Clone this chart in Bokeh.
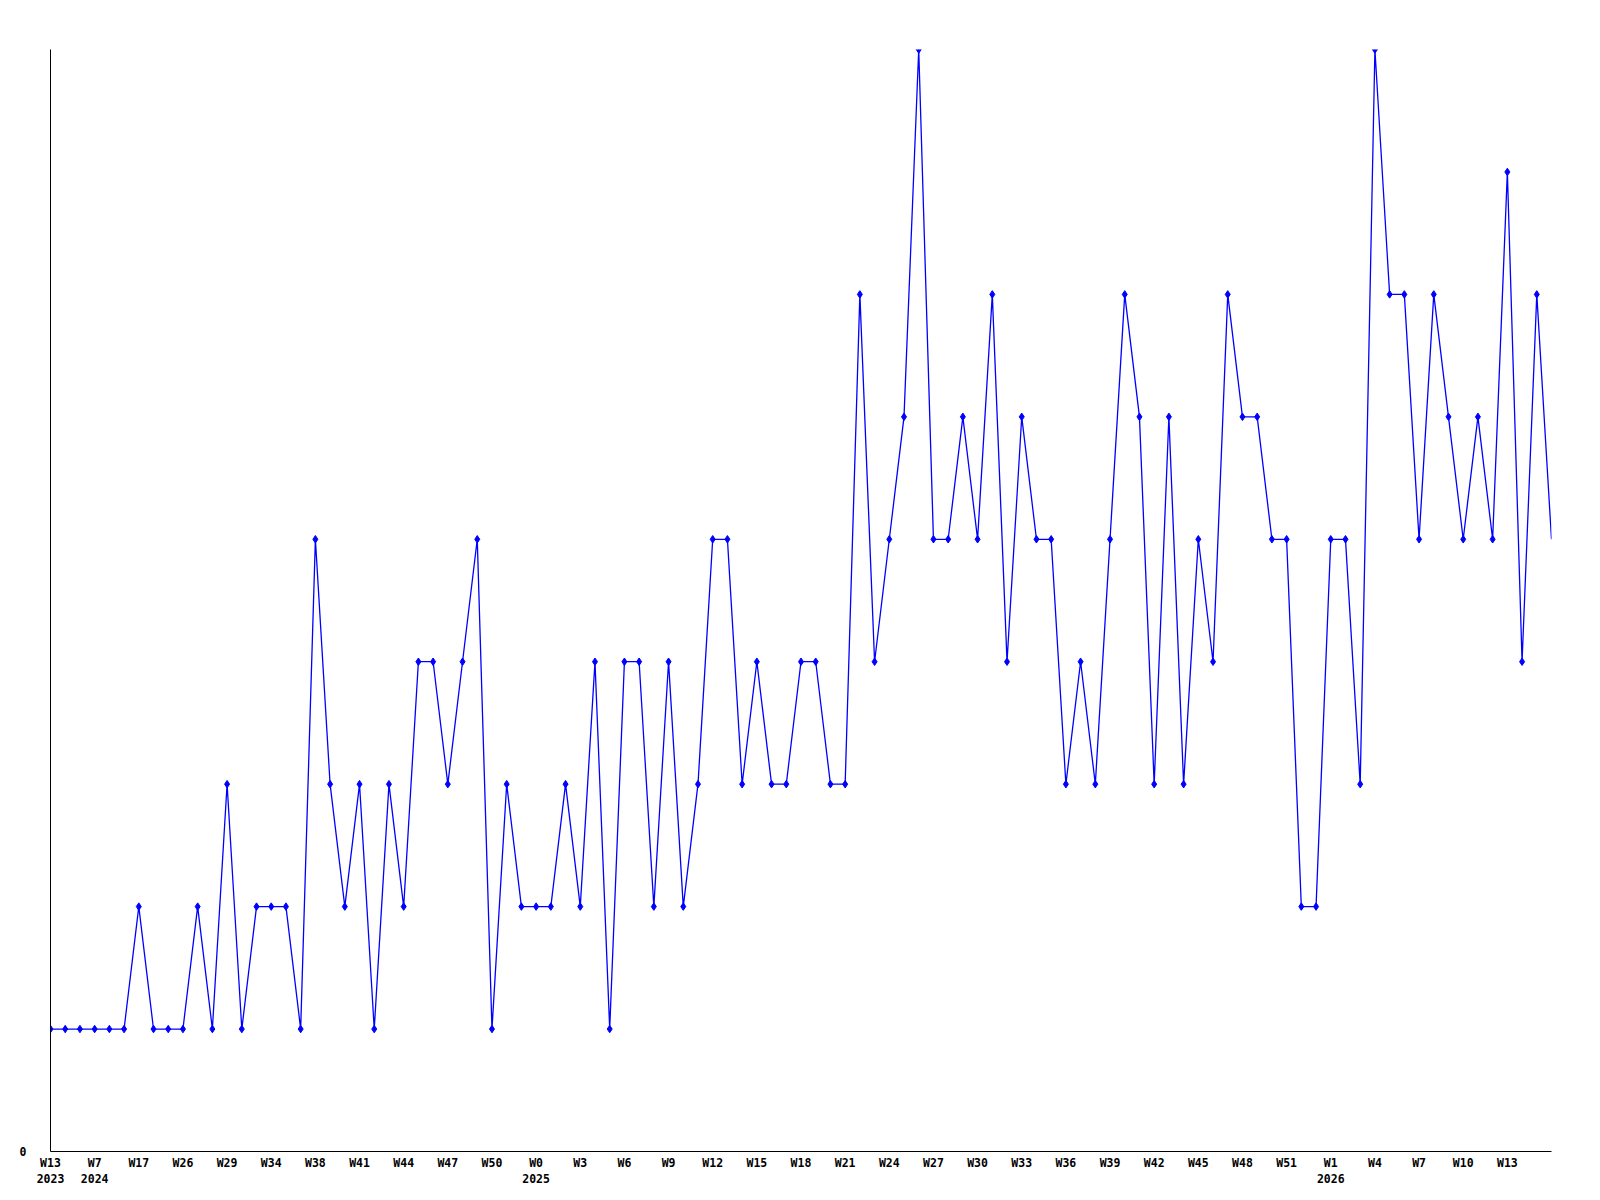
from bokeh.plotting import figure
from bokeh.models import Range1d, FixedTicker
from bokeh.embed import file_html
from bokeh.resources import INLINE

# weekly values (one per data point)
values = [1, 1, 1, 1, 1, 1, 2, 1, 1, 1,
          2, 1, 3, 1, 2, 2, 2, 1, 5, 3,
          2, 3, 1, 3, 2, 4, 4, 3, 4, 5,
          1, 3, 2, 2, 2, 3, 2, 4, 1, 4,
          4, 2, 4, 2, 3, 5, 5, 3, 4, 3,
          3, 4, 4, 3, 3, 7, 4, 5, 6, 9,
          5, 5, 6, 5, 7, 4, 6, 5, 5, 3,
          4, 3, 5, 7, 6, 3, 6, 3, 5, 4,
          7, 6, 6, 5, 5, 2, 2, 5, 5, 3,
          9, 7, 7, 5, 7, 6, 5, 6, 5, 8,
          4, 7, 5]

# tick labels (one every third point)
tick_labels = ["W13\n2023", "W7\n2024", "W17", "W26", "W29", "W34", "W38", "W41",
               "W44", "W47", "W50", "W0\n2025", "W3", "W6", "W9", "W12", "W15",
               "W18", "W21", "W24", "W27", "W30", "W33", "W36", "W39", "W42",
               "W45", "W48", "W51", "W1\n2026", "W4", "W7", "W10", "W13"]
tick_step = 3

y_max = 9

xs = list(range(len(values)))
tick_pos = [i * tick_step for i in range(len(tick_labels))]

p = figure(width=1592, height=1194, output_backend="svg", toolbar_location=None,
           x_range=Range1d(0, len(values) - 1), y_range=Range1d(0, y_max),
           min_border_left=50, min_border_right=41, min_border_top=49,
           min_border_bottom=43)
p.outline_line_color = None
p.xgrid.grid_line_color = None
p.ygrid.grid_line_color = None
p.background_fill_color = "white"
p.border_fill_color = "white"

p.line(xs, values, line_color="#0000ff", line_width=1.3)
# last (current) week is drawn without a marker
p.scatter(xs[:-1], values[:-1], marker="diamond", size=7.5,
          fill_color="#0000ff", line_color="#0000ff")

font = "DejaVu Sans Mono"

xa = p.xaxis[0]
xa.ticker = FixedTicker(ticks=tick_pos)
xa.major_label_overrides = {t: lab for t, lab in zip(tick_pos, tick_labels)}
xa.major_tick_line_color = None
xa.minor_tick_line_color = None
xa.axis_line_color = "black"
xa.axis_line_width = 1
xa.major_label_text_font = font
xa.major_label_text_font_style = "bold"
xa.major_label_text_font_size = "11.5px"
xa.major_label_text_color = "black"
xa.major_label_standoff = -2

ya = p.yaxis[0]
ya.ticker = FixedTicker(ticks=[0])
ya.major_tick_line_color = None
ya.minor_tick_line_color = None
ya.axis_line_color = "black"
ya.axis_line_width = 1
ya.major_label_text_font = font
ya.major_label_text_font_style = "bold"
ya.major_label_text_font_size = "11.5px"
ya.major_label_text_color = "black"
ya.major_label_standoff = 18

open("out.html", "w").write(file_html(p, INLINE))
